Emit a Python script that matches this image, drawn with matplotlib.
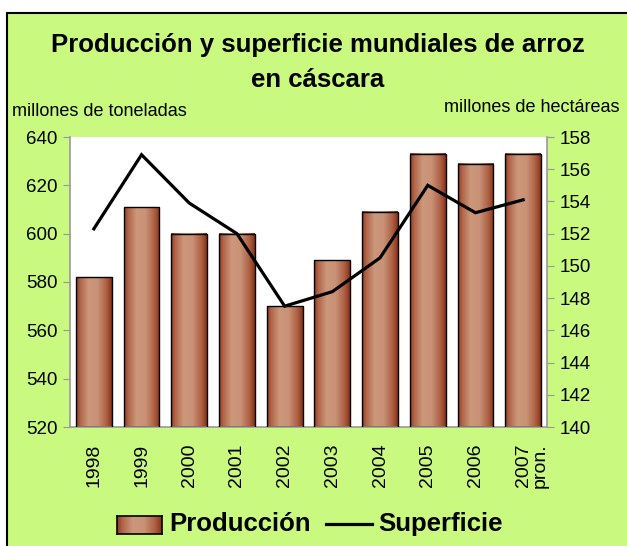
import numpy as np
import matplotlib
matplotlib.use("Agg")
import matplotlib.pyplot as plt
from matplotlib.patches import Rectangle
from matplotlib.colors import LinearSegmentedColormap

plt.rcParams['font.family'] = ['Liberation Sans', 'DejaVu Sans']

years = ['1998', '1999', '2000', '2001', '2002', '2003', '2004', '2005', '2006', '2007']
produccion = [582, 611, 600, 600, 570, 589, 609, 633, 629, 633]
superficie = [152.3, 156.9, 153.9, 152.0, 147.5, 148.4, 150.5, 155.0, 153.3, 154.1]
left_ticks = [520, 540, 560, 580, 600, 620, 640]
right_ticks = [140, 142, 144, 146, 148, 150, 152, 154, 156, 158]

W, H = 627, 546
GREEN = '#C9F97F'
fig = plt.figure(figsize=(W / 100, H / 100), dpi=100)
fig.patch.set_facecolor('white')
bg = Rectangle((7 / W, -0.01), 1.0, 1 - 13 / H + 0.01,
               transform=fig.transFigure, facecolor=GREEN,
               edgecolor='black', linewidth=1.5, zorder=-10)
fig.patches.append(bg)

ax = fig.add_axes([70 / W, (H - 427) / H, 477 / W, 290 / H])
ax.set_facecolor('white')
x = np.arange(len(years))
bw = 0.75

cmap = LinearSegmentedColormap.from_list('bar', [
    (0.0, '#93361a'), (0.12, '#b0664a'), (0.35, '#cc977b'),
    (0.6, '#c99277'), (0.85, '#ad5f42'), (1.0, '#8a3015')])
grad = np.linspace(0, 1, 256).reshape(1, -1)
ymin, ymax = 520, 640
for xi, v in zip(x, produccion):
    ax.imshow(grad, cmap=cmap, aspect='auto', interpolation='bilinear',
              extent=(xi - bw / 2, xi + bw / 2, ymin, v), zorder=2)
ax.bar(x, [v - ymin for v in produccion], bottom=ymin, width=bw, fill=False,
       edgecolor='black', linewidth=1.0, zorder=3)
ax.set_xlim(-0.5, len(years) - 0.5)
ax.set_ylim(ymin, ymax)
ax.set_yticks(left_ticks)
ax.set_xticks(x)
ax.set_xticklabels(years, rotation=90, fontsize=14)
ax.tick_params(axis='x', length=0, pad=12)
ax.tick_params(axis='y', labelsize=13.5, length=5, color='#999999', pad=4)
for s in ['top', 'right']:
    ax.spines[s].set_visible(False)
for s in ['left', 'bottom']:
    ax.spines[s].set_color('#999999')
    ax.spines[s].set_linewidth(1.2)

ax2 = ax.twinx()
ax2.plot(x, superficie, color='black', linewidth=2.3, solid_joinstyle='miter', zorder=5)
ax2.set_ylim(140, 158)
ax2.set_yticks(right_ticks)
ax2.tick_params(axis='y', labelsize=13.5, length=5, color='#999999', pad=4)
for s in ['top', 'left', 'bottom']:
    ax2.spines[s].set_visible(False)
ax2.spines['right'].set_color('#999999')
ax2.spines['right'].set_linewidth(1.2)

# "pron." next to 2007
ax.text(len(years) - 1 + 0.36, -0.055, 'pron.', transform=ax.get_xaxis_transform(),
        rotation=90, ha='center', va='top', fontsize=14)

fig.text(318 / W, 1 - 45 / H, 'Producción y superficie mundiales de arroz',
         ha='center', va='center', fontsize=18.5, fontweight='bold')
fig.text(318 / W, 1 - 80 / H, 'en cáscara',
         ha='center', va='center', fontsize=18.5, fontweight='bold')
fig.text(12 / W, 1 - 112 / H, 'millones de toneladas', ha='left', va='center', fontsize=13)
fig.text(620 / W, 1 - 108 / H, 'millones de hectáreas', ha='right', va='center', fontsize=13)

# legend
lax = fig.add_axes([117 / W, (H - 534) / H, 45 / W, 18 / H])
lax.imshow(grad, cmap=cmap, aspect='auto', extent=(0, 1, 0, 1))
lax.set_xticks([]); lax.set_yticks([])
for s in lax.spines.values():
    s.set_linewidth(1.2)
fig.text(169 / W, 1 - 524 / H, 'Producción', ha='left', va='center', fontsize=18.5, fontweight='bold')
fig.lines.append(plt.Line2D([326 / W, 372 / W], [1 - 524 / H, 1 - 524 / H],
                            transform=fig.transFigure, color='black', linewidth=2.3))
fig.text(378 / W, 1 - 524 / H, 'Superficie', ha='left', va='center', fontsize=18.5, fontweight='bold')

fig.savefig('out.png', dpi=100, facecolor=fig.get_facecolor())
